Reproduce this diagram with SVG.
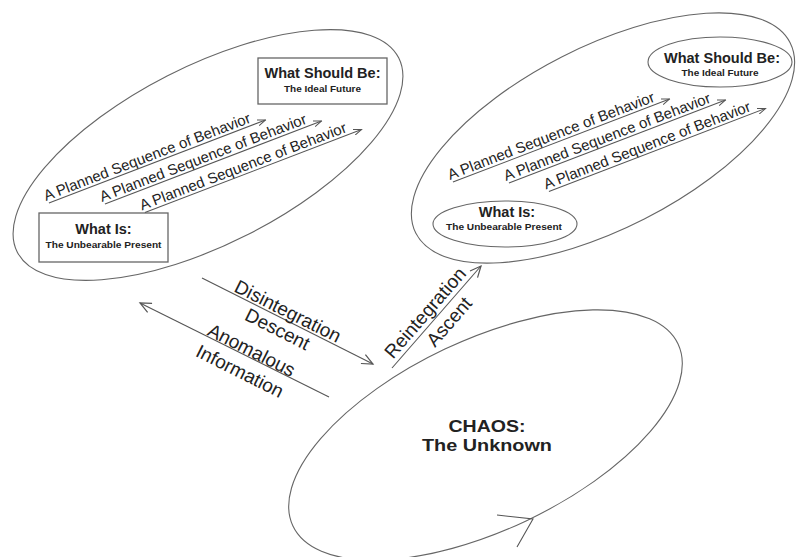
<svg xmlns="http://www.w3.org/2000/svg" width="797" height="557" viewBox="0 0 797 557">
<style>
  text { font-family: "Liberation Sans", Arial, sans-serif; fill: #222; }
  .ell { fill: none; stroke: #666; stroke-width: 1.1; }
  .box { fill: #fff; stroke: #666; stroke-width: 1.3; }
  .hd { font-size: 14.5px; font-weight: bold; text-anchor: middle; }
  .sub { font-size: 9px; font-weight: bold; text-anchor: middle; }
  .ps { font-size: 15px; }
  .ul { fill: none; stroke: #555; stroke-width: 1; marker-end: url(#sa); }
  .lbl { font-size: 19px; text-anchor: middle; }
  .con { fill: none; stroke: #555; stroke-width: 1.1; marker-end: url(#ah); }
  .chaos { font-size: 17px; font-weight: bold; text-anchor: middle; }
</style>
<defs>
  <marker id="ah" markerWidth="14" markerHeight="12" refX="12" refY="6" orient="auto" markerUnits="userSpaceOnUse">
    <path d="M1,1 L12,6 L1,11" fill="none" stroke="#555" stroke-width="1.2"/>
  </marker>
  <marker id="sa" markerWidth="9" markerHeight="7" refX="8" refY="3.5" orient="auto" markerUnits="userSpaceOnUse">
    <path d="M0,0.5 L8,3.5 L0,6.5" fill="none" stroke="#555" stroke-width="1"/>
  </marker>
</defs>
<rect width="797" height="557" fill="#fff"/>

<g id="order-left">
  <ellipse class="ell" cx="208" cy="155" rx="214" ry="89" transform="rotate(-27 208 155)"/>
  <g id="left-what-should-be">
    <rect class="box" x="258" y="58" width="129" height="46"/>
    <text class="hd" x="322.5" y="78">What Should Be:</text>
    <text class="sub" x="322.5" y="92" textLength="77" lengthAdjust="spacingAndGlyphs">The Ideal Future</text>
  </g>
  <g id="left-what-is">
    <rect class="box" x="39" y="213" width="129" height="49"/>
    <text class="hd" x="103.5" y="234">What Is:</text>
    <text class="sub" x="103.5" y="248" textLength="116" lengthAdjust="spacingAndGlyphs">The Unbearable Present</text>
  </g>
  <g id="left-plans">
    <g transform="translate(46,201) rotate(-21)">
      <text class="ps" x="0" y="0">A Planned Sequence of Behavior</text>
      <path class="ul" d="M2,3 H234"/>
    </g>
    <g transform="translate(102,202) rotate(-21)">
      <text class="ps" x="0" y="0">A Planned Sequence of Behavior</text>
      <path class="ul" d="M2,3 H234"/>
    </g>
    <g transform="translate(142,210.5) rotate(-21)">
      <text class="ps" x="0" y="0">A Planned Sequence of Behavior</text>
      <path class="ul" d="M2,3 H234"/>
    </g>
  </g>
</g>

<g id="order-right">
  <ellipse class="ell" cx="603" cy="138" rx="210" ry="91" transform="rotate(-27 603 138)"/>
  <g id="right-what-should-be">
    <ellipse class="ell" cx="720" cy="62" rx="72" ry="25"/>
    <text class="hd" x="722" y="63">What Should Be:</text>
    <text class="sub" x="720" y="76" textLength="77" lengthAdjust="spacingAndGlyphs">The Ideal Future</text>
  </g>
  <g id="right-what-is">
    <ellipse class="ell" cx="505" cy="224" rx="72" ry="23"/>
    <text class="hd" x="507" y="217">What Is:</text>
    <text class="sub" x="504" y="230" textLength="116" lengthAdjust="spacingAndGlyphs">The Unbearable Present</text>
  </g>
  <g id="right-plans">
    <g transform="translate(450,180) rotate(-21)">
      <text class="ps" x="0" y="0">A Planned Sequence of Behavior</text>
      <path class="ul" d="M2,3 H234"/>
    </g>
    <g transform="translate(506,181) rotate(-21)">
      <text class="ps" x="0" y="0">A Planned Sequence of Behavior</text>
      <path class="ul" d="M2,3 H234"/>
    </g>
    <g transform="translate(546,189.5) rotate(-21)">
      <text class="ps" x="0" y="0">A Planned Sequence of Behavior</text>
      <path class="ul" d="M2,3 H234"/>
    </g>
  </g>
</g>

<g id="chaos">
  <ellipse class="ell" cx="485.5" cy="435" rx="213" ry="95" transform="rotate(-25.3 485.5 435)"/>
  <path d="M497,515 L533,519 L517,547" fill="none" stroke="#555" stroke-width="1.1"/>
  <text class="chaos" x="487" y="432" textLength="77" lengthAdjust="spacingAndGlyphs">CHAOS:</text>
  <text class="chaos" x="487" y="451" textLength="130" lengthAdjust="spacingAndGlyphs">The Unknown</text>
</g>

<g id="connectors">
  <line class="con" x1="202" y1="278" x2="373" y2="364"/>
  <line class="con" x1="329" y1="397" x2="140" y2="303"/>
  <line class="con" x1="392" y1="368" x2="481" y2="266"/>
  <text class="lbl" transform="translate(285,317) rotate(26.7)">Disintegration</text>
  <text class="lbl" transform="translate(274.6,335) rotate(26.7)">Descent</text>
  <text class="lbl" transform="translate(248.6,356) rotate(26.7)">Anomalous</text>
  <text class="lbl" transform="translate(237,377) rotate(26.7)">Information</text>
  <text class="lbl" transform="translate(430,317) rotate(-49)">Reintegration</text>
  <text class="lbl" transform="translate(454,326) rotate(-49)">Ascent</text>
</g>
</svg>
